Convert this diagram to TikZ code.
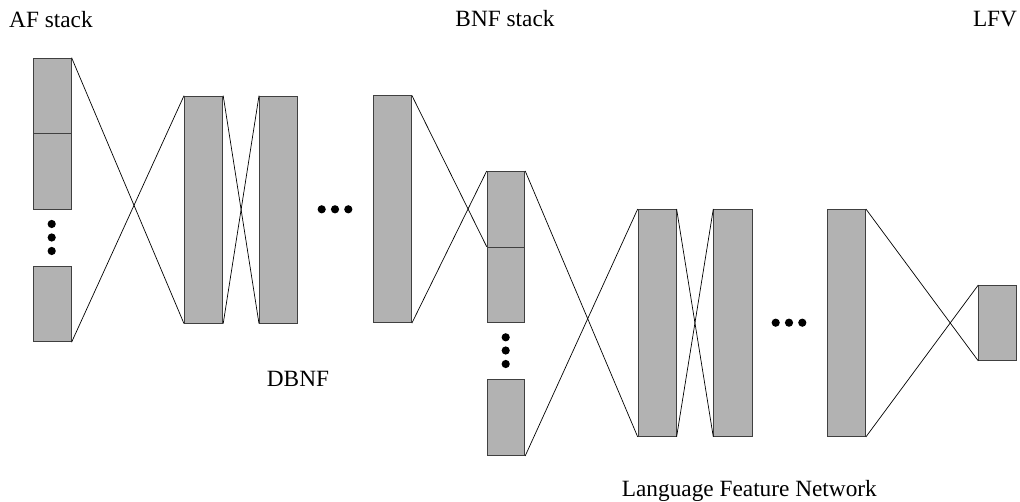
\documentclass[tikz,border=0pt]{standalone}
\usepackage{fontspec}
\setmainfont{Liberation Serif}
\begin{document}
\begin{tikzpicture}[x=1pt,y=-1pt,
  layer/.style={draw=black!75, line width=0.9pt, fill=black!30, inner sep=0pt, anchor=north west},
  conn/.style={draw=black, line width=0.7pt},
  dot/.style={fill=black},
  lbl/.style={font=\fontsize{23.3}{27}\selectfont, inner sep=0pt, anchor=base}]
\useasboundingbox (0,0) rectangle (1020,502);
% AF stack
\node[layer, minimum width=38, minimum height=75.6] (a1) at (32.7,57.7) {};
\node[layer, minimum width=38, minimum height=75.7] (a2) at (32.7,133.3) {};
\node[layer, minimum width=38, minimum height=75.3] (a3) at (32.7,266) {};
% DBNF
\node[layer, minimum width=38.3, minimum height=227] (d1) at (184,95.7) {};
\node[layer, minimum width=38, minimum height=227] (d2) at (259,95.7) {};
\node[layer, minimum width=37.7, minimum height=226.7] (d3) at (373.3,95.5) {};
% BNF stack
\node[layer, minimum width=37.6, minimum height=75.7] (b1) at (486.7,171) {};
\node[layer, minimum width=37.6, minimum height=75.3] (b2) at (486.7,246.7) {};
\node[layer, minimum width=37.6, minimum height=75.7] (b3) at (486.7,379.3) {};
% LFN
\node[layer, minimum width=38, minimum height=227] (l1) at (637.7,209) {};
\node[layer, minimum width=38.4, minimum height=227] (l2) at (713.3,209) {};
\node[layer, minimum width=38, minimum height=227] (l3) at (827,209) {};
% LFV
\node[layer, minimum width=37.7, minimum height=75] (v) at (978.3,285) {};
% connectors
\draw[conn] (a1.north east) -- (d1.south west);
\draw[conn] (a3.south east) -- (d1.north west);
\draw[conn] (d1.north east) -- (d2.south west);
\draw[conn] (d1.south east) -- (d2.north west);
\draw[conn] (d3.north east) -- (b2.north west);
\draw[conn] (d3.south east) -- (b1.north west);
\draw[conn] (b1.north east) -- (l1.south west);
\draw[conn] (b3.south east) -- (l1.north west);
\draw[conn] (l1.north east) -- (l2.south west);
\draw[conn] (l1.south east) -- (l2.north west);
\draw[conn] (l3.north east) -- (v.south west);
\draw[conn] (l3.south east) -- (v.north west);
% dots
\foreach \y in {224,237.5,251} \fill[dot] (51.7,\y) circle (4.1);
\foreach \y in {337.3,350.5,364} \fill[dot] (505.7,\y) circle (4.1);
\foreach \x in {321.7,335,348.3} \fill[dot] (\x,209.3) circle (4.1);
\foreach \x in {775.7,789,802.3} \fill[dot] (\x,322.7) circle (4.1);
% labels
\node[lbl, anchor=base west] (tAF) at (9,27.3) {AF stack};
\node[lbl] (tBNF) at (505,26.7) {BNF stack};
\node[lbl] (tLFV) at (995,27) {LFV};
\node[lbl] (tDBNF) at (298,386.7) {DBNF};
\node[lbl, anchor=base west] (tLFN) at (621.7,496.7) {Language Feature Network};
\end{tikzpicture}
\end{document}
